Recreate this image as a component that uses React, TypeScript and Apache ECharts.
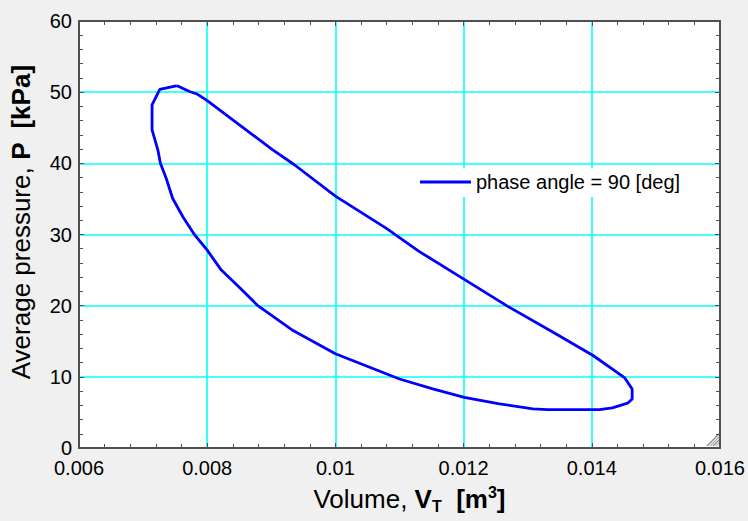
import React, { useEffect, useRef } from "react";
import * as echarts from "echarts";

// Volume [m^3] and average pressure [kPa] around the closed P–V loop
const volume: number[] = [
  0.007517, 0.007557, 0.007724, 0.00785, 0.008, 0.00871, 0.009023, 0.00936,
  0.01, 0.01079, 0.01131, 0.01201, 0.01269, 0.01339, 0.01402, 0.01451,
  0.01463, 0.01463, 0.01456, 0.01432, 0.01412, 0.01331, 0.01308, 0.01256,
  0.01201, 0.01152, 0.011, 0.01, 0.00934, 0.00879, 0.0085, 0.00822, 0.008,
  0.0078, 0.00762, 0.00746, 0.00736, 0.00727, 0.00723, 0.00714, 0.00714,
  0.00726, 0.007517,
];
const pressure: number[] = [
  50.9, 50.8, 50.1, 49.7, 48.8, 44.0, 41.9, 39.8, 35.4, 30.9, 27.6, 23.7,
  19.9, 16.3, 13.0, 9.9, 8.3, 6.9, 6.3, 5.65, 5.4, 5.4, 5.5, 6.2, 7.1, 8.3,
  9.7, 13.25, 16.5, 20.0, 22.6, 25.0, 27.8, 30.0, 32.5, 35.1, 37.9, 40.0,
  41.9, 44.7, 48.2, 50.4, 50.9,
];
const seriesName = "phase angle = 90 [deg]";

const xMin = 0.006;
const xMax = 0.016;
const xStep = 0.002;
const yMin = 0;
const yMax = 60;
const yStep = 10;

const FONT = "'Liberation Sans', Arial, sans-serif";
const AXIS_DARK = "#505050";

function axisCommon(showLabels: boolean, grid: boolean, margin = 8) {
  return {
    axisLine: { show: true, onZero: false, lineStyle: { color: AXIS_DARK, width: 2 } },
    axisTick: { show: true, inside: true, length: 5, lineStyle: { color: AXIS_DARK, width: 1 } },
    minorTick: { show: true, splitNumber: 5, length: 4, lineStyle: { color: AXIS_DARK, width: 1 } },
    minorSplitLine: { show: false },
    splitLine: { show: grid, lineStyle: { color: "#00ffff", width: 1.6 } },
    axisLabel: {
      show: showLabels,
      margin,
      fontSize: 20,
      fontFamily: FONT,
      color: "#000",
    },
  };
}

export default function App() {
  const ref = useRef<HTMLDivElement>(null);

  useEffect(() => {
    if (!ref.current) return;
    const chart = echarts.init(ref.current, undefined, { renderer: "svg" });
    const points = volume.map((v, i) => [v, pressure[i]]);

    const titleRich = {
      n: { fontSize: 26, fontFamily: FONT, color: "#000", lineHeight: 30 },
      b: { fontSize: 26, fontFamily: FONT, color: "#000", fontWeight: "bold", lineHeight: 30 },
      sub: { fontSize: 16, fontFamily: FONT, color: "#000", fontWeight: "bold", lineHeight: 14, verticalAlign: "bottom" },
      sup: { fontSize: 16, fontFamily: FONT, color: "#000", fontWeight: "bold", lineHeight: 14, verticalAlign: "top" },
    };

    // hatched resize grip in the plot's lower-right corner
    const grip = [13, 10, 7, 4].map((s, i) => ({
      type: "line",
      shape: { x1: 720 - s, y1: 446, x2: 720, y2: 446 - s },
      style: { stroke: i % 2 === 0 ? "#8a8a8a" : "#b0b0b0", lineWidth: 1.2 },
      silent: true,
    }));

    chart.setOption({
      animation: false,
      backgroundColor: "#f0f0f0",
      grid: {
        left: 79,
        right: 27,
        top: 21,
        bottom: 73,
        show: true,
        backgroundColor: "#ffffff",
        borderWidth: 0,
      },
      legend: {
        data: [{ name: seriesName, icon: "rect" }],
        left: 416,
        top: 168,
        padding: [4, 10, 5, 4],
        backgroundColor: "#ffffff",
        itemWidth: 51,
        itemHeight: 3,
        textStyle: { fontSize: 20, fontFamily: FONT, color: "#000" },
      },
      xAxis: [
        {
          type: "value",
          position: "bottom",
          min: xMin,
          max: xMax,
          interval: xStep,
          ...axisCommon(true, true, 10),
          name: "{n|Volume, }{b|V}{sub|T}{n|  }{b|[m}{sup|3}{b|]}",
          nameLocation: "middle",
          nameGap: 36,
          nameTextStyle: { rich: titleRich, padding: [0, 0, 0, 20] },
        },
        {
          type: "value",
          position: "top",
          min: xMin,
          max: xMax,
          interval: xStep,
          ...axisCommon(false, false),
        },
      ],
      yAxis: [
        {
          type: "value",
          position: "left",
          min: yMin,
          max: yMax,
          interval: yStep,
          ...axisCommon(true, true, 7),
          name: "{n|Average pressure, }{b|P  [kPa]}",
          nameLocation: "middle",
          nameRotate: 90,
          nameGap: 43,
          nameTextStyle: { rich: titleRich, padding: [0, 0, 0, 25] },
        },
        {
          type: "value",
          position: "right",
          min: yMin,
          max: yMax,
          interval: yStep,
          ...axisCommon(false, false),
        },
      ],
      series: [
        {
          name: seriesName,
          type: "line",
          data: points,
          xAxisIndex: 0,
          yAxisIndex: 0,
          showSymbol: false,
          symbol: "none",
          lineStyle: { color: "#0000ff", width: 2.8 },
          itemStyle: { color: "#0000ff" },
          z: 5,
        },
      ],
      graphic: grip,
    });

    return () => chart.dispose();
  }, []);

  return (
    <div
      ref={ref}
      style={{ position: "fixed", left: 0, top: 0, width: 748, height: 521 }}
    />
  );
}
